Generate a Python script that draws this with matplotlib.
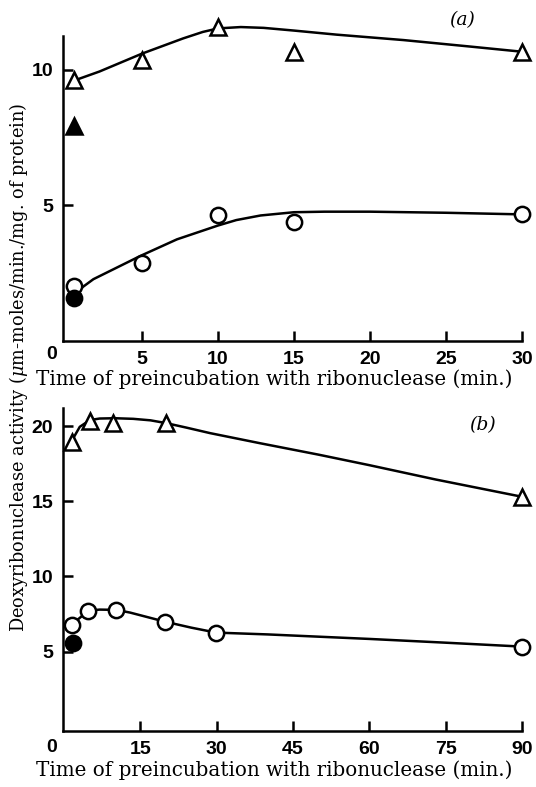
import matplotlib
matplotlib.use('Agg')
import matplotlib.pyplot as plt

plt.rcParams['mathtext.fontset'] = 'dejavuserif'

# panel (a): time (min.) vs activity
a_x = [0.5, 5, 10, 15, 30]
a_tri = [9.63, 10.37, 11.57, 10.67, 10.67]
a_circ = [2.03, 2.87, 4.63, 4.39, 4.67]
a_tri_fill = [0.5, 7.94]
a_circ_fill = [0.5, 1.6]
# hand-drawn curves
a_tri_curve_x = [0.5, 2.2, 5, 7.7, 9, 10, 11.5, 13, 15, 17.8, 22.2, 26.6, 30]
a_tri_curve_y = [9.6, 9.94, 10.6, 11.16, 11.4, 11.53, 11.58, 11.55, 11.45, 11.3, 11.1, 10.86, 10.67]
a_circ_curve_x = [0.9, 1.8, 4.9, 7.3, 10, 11.2, 12.8, 15, 17, 20, 25, 30]
a_circ_curve_y = [1.91, 2.28, 3.14, 3.75, 4.26, 4.46, 4.63, 4.75, 4.77, 4.77, 4.73, 4.67]

# panel (b)
b_x = [1.5, 5.1, 9.7, 20, 90]
b_tri = [18.97, 20.35, 20.23, 20.23, 15.3]
b_circ_x = [1.5, 4.8, 10.3, 19.8, 29.9, 90]
b_circ = [6.78, 7.73, 7.78, 7.0, 6.27, 5.34]
b_circ_fill = [1.7, 5.6]
b_tri_curve_x = [1.5, 2.0, 3.1, 5.1, 7, 10, 13.6, 17, 20, 24, 28.7, 38.5, 50, 60, 73, 90]
b_tri_curve_y = [19.0, 19.3, 19.95, 20.4, 20.5, 20.52, 20.48, 20.38, 20.2, 19.9, 19.53, 18.86, 18.1, 17.4, 16.45, 15.3]
b_circ_curve_x = [1.5, 4.8, 7, 10.3, 13, 19.8, 25, 29.9, 40, 60, 75, 90]
b_circ_curve_y = [6.8, 7.73, 7.8, 7.78, 7.6, 7.0, 6.6, 6.27, 6.15, 5.85, 5.6, 5.34]

W, H = 536, 787
fig = plt.figure(figsize=(W / 100, H / 100), dpi=100)

def px_axes(left, top, right, bottom):
    return fig.add_axes([left / W, 1 - bottom / H, (right - left) / W, (bottom - top) / H])

serif = 'DejaVu Serif'
tickfont = {'family': 'Liberation Sans', 'weight': 'bold', 'size': 14}
mk = dict(markersize=11, markeredgewidth=1.8, markeredgecolor='black', clip_on=False, linestyle='none', zorder=3)

def style(ax, xticks, yticks):
    for s in ['top', 'right']:
        ax.spines[s].set_visible(False)
    for s in ['left', 'bottom']:
        ax.spines[s].set_linewidth(1.8)
    ax.set_xticks(xticks)
    ax.set_yticks(yticks)
    ax.tick_params(direction='in', length=7, width=1.8, pad=7)
    for lab in ax.get_xticklabels() + ax.get_yticklabels():
        lab.set_fontfamily(tickfont['family'])
        lab.set_fontweight('bold')
        lab.set_fontsize(tickfont['size'])

# (a)
ax1 = px_axes(63, 36, 522, 341)
ax1.set_xlim(-0.2, 30)
ax1.set_ylim(0, 11.25)
ax1.plot(a_tri_curve_x, a_tri_curve_y, color='black', lw=1.8, clip_on=False)
ax1.plot(a_circ_curve_x, a_circ_curve_y, color='black', lw=1.8, clip_on=False)
ax1.plot(a_x, a_tri, marker='^', markerfacecolor='white', **mk)
ax1.plot(a_x, a_circ, marker='o', markerfacecolor='white', **mk)
ax1.plot(a_tri_fill[0], a_tri_fill[1], marker='^', markerfacecolor='black', **mk)
ax1.plot(a_circ_fill[0], a_circ_fill[1], marker='o', markerfacecolor='black', **mk)
style(ax1, [5, 10, 15, 20, 25, 30], [5, 10])
ax1.set_xlabel('Time of preincubation with ribonuclease (min.)', family=serif, fontsize=14.3, labelpad=1)
ax1.xaxis.label.set_x(0.46)

# (b)
ax2 = px_axes(63, 408, 522, 731)
ax2.set_xlim(-0.2, 90)
ax2.set_ylim(-0.27, 21.2)
ax2.plot(b_tri_curve_x, b_tri_curve_y, color='black', lw=1.8)
ax2.plot(b_circ_curve_x, b_circ_curve_y, color='black', lw=1.8)
ax2.plot(b_x, b_tri, marker='^', markerfacecolor='white', **mk)
ax2.plot(b_circ_x, b_circ, marker='o', markerfacecolor='white', **mk)
ax2.plot(b_circ_fill[0], b_circ_fill[1], marker='o', markerfacecolor='black', **mk)
style(ax2, [15, 30, 45, 60, 75, 90], [5, 10, 15, 20])
ax2.set_xlabel('Time of preincubation with ribonuclease (min.)', family=serif, fontsize=14.3, labelpad=2)
ax2.xaxis.label.set_x(0.46)

# corner zeros, panel letters, shared y label
fig.text(52 / W, 1 - 355 / H, '0', ha='center', va='center', **tickfont)
fig.text(52 / W, 1 - 747 / H, '0', ha='center', va='center', **tickfont)
fig.text(462 / W, 1 - 20 / H, '(a)', ha='center', va='center', family=serif, style='italic', fontsize=13.5)
fig.text(483 / W, 1 - 425 / H, '(b)', ha='center', va='center', family=serif, style='italic', fontsize=13.5)
fig.text(19 / W, 1 - 367 / H, r'Deoxyribonuclease activity ($\mu$m-moles/min./mg. of protein)',
         rotation=90, ha='center', va='center', family=serif, fontsize=12.8)

fig.savefig('out.png', dpi=100)
